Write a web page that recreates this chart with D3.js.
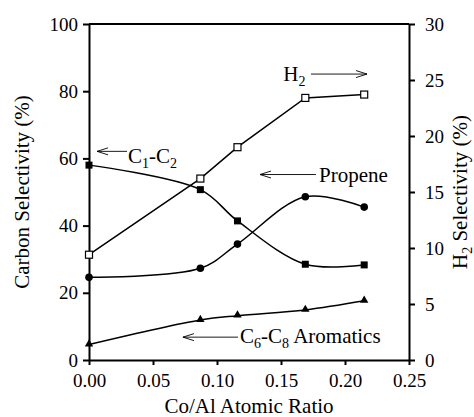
<!DOCTYPE html>
<html>
<head>
<meta charset="utf-8">
<script src="https://cdn.jsdelivr.net/npm/d3@7"></script>
<style>
  html, body { margin: 0; padding: 0; background: #fff; }
  svg { display: block; }
</style>
</head>
<body>
<svg id="chart" width="474" height="417"></svg>
<script>
// Co/Al atomic ratio of each catalyst
const ratio = [0, 0.087, 0.116, 0.169, 0.215];

// Carbon selectivity (%) — left axis
const c1c2      = [58.0, 50.7, 41.4, 28.5, 28.3];
const propene   = [24.6, 27.3, 34.5, 48.6, 45.5];
const aromatics = [4.6, 11.9, 13.2, 14.9, 17.6];

// H2 selectivity (%) — right axis
const h2 = [9.4, 16.2, 19.0, 23.4, 23.7];

// Tick values
const xTicks = [0, 0.05, 0.10, 0.15, 0.20, 0.25];
const yLeftTicks = [0, 20, 40, 60, 80, 100];
const yRightTicks = [0, 5, 10, 15, 20, 25, 30];

// Callouts: text (main/subscript runs), text anchor and arrow in data units
const callouts = [
  { runs: [["C", 0], ["1", 1], ["-C", 0], ["2", 1]], tx: 0.0305, ty: 58.6,
    arrow: { from: 0.0297, to: 0.0063, y: 62.1 } },
  { runs: [["H", 0], ["2", 1]], tx: 0.1518, ty: 82.9,
    arrow: { from: 0.1734, to: 0.2172, y: 85.1 } },
  { runs: [["Propene", 0]], tx: 0.1797, ty: 53.1,
    arrow: { from: 0.1773, to: 0.1336, y: 55.2 } },
  { runs: [["C", 0], ["6", 1], ["-C", 0], ["8", 1], [" Aromatics", 0]], tx: 0.1180, ty: 5.1,
    arrow: { from: 0.1164, to: 0.0734, y: 6.8 } }
];

const FONT = "'Liberation Serif', 'Times New Roman', Times, 'DejaVu Serif', serif";

const svg = d3.select("#chart").style("font-family", FONT);
const W = 474, H = 417;
const margin = { left: 89, right: 65, top: 24, bottom: 57 };
const plotW = W - margin.left - margin.right;
const plotH = H - margin.top - margin.bottom;

svg.append("rect").attr("width", W).attr("height", H).attr("fill", "#fff");

const x = d3.scaleLinear().domain([0, 0.25]).range([margin.left, margin.left + plotW]);
const yL = d3.scaleLinear().domain([0, 100]).range([margin.top + plotH, margin.top]);
const yR = d3.scaleLinear().domain([0, 30]).range([margin.top + plotH, margin.top]);

// Axes
const gx = svg.append("g")
  .attr("transform", `translate(0,${margin.top + plotH})`)
  .call(d3.axisBottom(x).tickValues(xTicks).tickFormat(d3.format(".2f"))
    .tickSize(5).tickPadding(9).tickSizeOuter(0));

const gl = svg.append("g")
  .attr("transform", `translate(${margin.left},0)`)
  .call(d3.axisLeft(yL).tickValues(yLeftTicks).tickSize(6).tickPadding(5).tickSizeOuter(0));

const gr = svg.append("g")
  .attr("transform", `translate(${margin.left + plotW},0)`)
  .call(d3.axisRight(yR).tickValues(yRightTicks).tickSize(6).tickPadding(10).tickSizeOuter(0));

[gx, gl, gr].forEach(g => {
  g.attr("font-family", null).attr("font-size", null)
   .style("font-family", FONT).style("font-size", "19px");
  g.select(".domain").attr("stroke", "#000").attr("stroke-width", 2);
  g.selectAll(".tick line").attr("stroke", "#000").attr("stroke-width", 2);
  g.selectAll(".tick text").attr("fill", "#000");
});

// Top frame line
svg.append("line")
  .attr("x1", x(0)).attr("x2", x(0.25))
  .attr("y1", yL(100)).attr("y2", yL(100))
  .attr("stroke", "#000").attr("stroke-width", 2);

// Axis titles
svg.append("text")
  .attr("transform", `translate(29,${margin.top + plotH / 2}) rotate(-90)`)
  .attr("text-anchor", "middle")
  .style("font-size", "21px")
  .text("Carbon Selectivity (%)");

const rt = svg.append("text")
  .attr("transform", `translate(467,${margin.top + plotH / 2}) rotate(-90)`)
  .attr("text-anchor", "middle")
  .style("font-size", "21px");
rt.append("tspan").text("H");
rt.append("tspan").attr("dy", 5).style("font-size", "14px").text("2");
rt.append("tspan").attr("dy", -5).text(" Selectivity (%)");

svg.append("text")
  .attr("x", x(0.125)).attr("y", 413)
  .attr("text-anchor", "middle")
  .style("font-size", "21px")
  .text("Co/Al Atomic Ratio");

// Series lines
const smooth = d3.curveCatmullRom.alpha(0.5);
const lineL = d3.line().x(d => x(d[0])).y(d => yL(d[1])).curve(smooth);
const lineR = d3.line().x(d => x(d[0])).y(d => yR(d[1]));

const zipL = vals => ratio.map((r, i) => [r, vals[i]]);

[c1c2, propene, aromatics].forEach(vals => {
  svg.append("path").datum(zipL(vals))
    .attr("d", lineL).attr("fill", "none")
    .attr("stroke", "#000").attr("stroke-width", 1.5);
});
svg.append("path").datum(zipL(h2))
  .attr("d", lineR).attr("fill", "none")
  .attr("stroke", "#000").attr("stroke-width", 1.5);

// Markers
const sq = 7;
svg.append("g").selectAll("rect").data(zipL(c1c2)).join("rect")
  .attr("x", d => x(d[0]) - sq / 2).attr("y", d => yL(d[1]) - sq / 2)
  .attr("width", sq).attr("height", sq).attr("fill", "#000");

svg.append("g").selectAll("rect").data(zipL(h2)).join("rect")
  .attr("x", d => x(d[0]) - sq / 2).attr("y", d => yR(d[1]) - sq / 2)
  .attr("width", sq).attr("height", sq)
  .attr("fill", "#fff").attr("stroke", "#000").attr("stroke-width", 1.2);

svg.append("g").selectAll("circle").data(zipL(propene)).join("circle")
  .attr("cx", d => x(d[0])).attr("cy", d => yL(d[1])).attr("r", 3.8).attr("fill", "#000");

const tri = d3.symbol().type(d3.symbolTriangle).size(30);
svg.append("g").selectAll("path").data(zipL(aromatics)).join("path")
  .attr("transform", d => `translate(${x(d[0])},${yL(d[1]) - 0.5})`)
  .attr("d", tri).attr("fill", "#000");

// Callouts with open arrowheads
callouts.forEach(c => {
  const ay = yL(c.arrow.y);
  const x1 = x(c.arrow.from), x2 = x(c.arrow.to);
  const dir = Math.sign(x2 - x1);
  svg.append("line")
    .attr("x1", x1).attr("x2", x2).attr("y1", ay).attr("y2", ay)
    .attr("stroke", "#000").attr("stroke-width", 0.9);
  svg.append("path")
    .attr("d", `M${x2 - dir * 11},${ay - 3.5}L${x2},${ay}L${x2 - dir * 11},${ay + 3.5}`)
    .attr("fill", "none").attr("stroke", "#000").attr("stroke-width", 0.9);

  const t = svg.append("text")
    .attr("x", x(c.tx)).attr("y", yL(c.ty))
    .style("font-size", "21px");
  let prevSub = 0;
  c.runs.forEach(([s, sub]) => {
    const span = t.append("tspan").text(s);
    if (sub !== prevSub) span.attr("dy", sub ? 5 : -5);
    if (sub) span.style("font-size", "14px");
    prevSub = sub;
  });
});
</script>
</body>
</html>
